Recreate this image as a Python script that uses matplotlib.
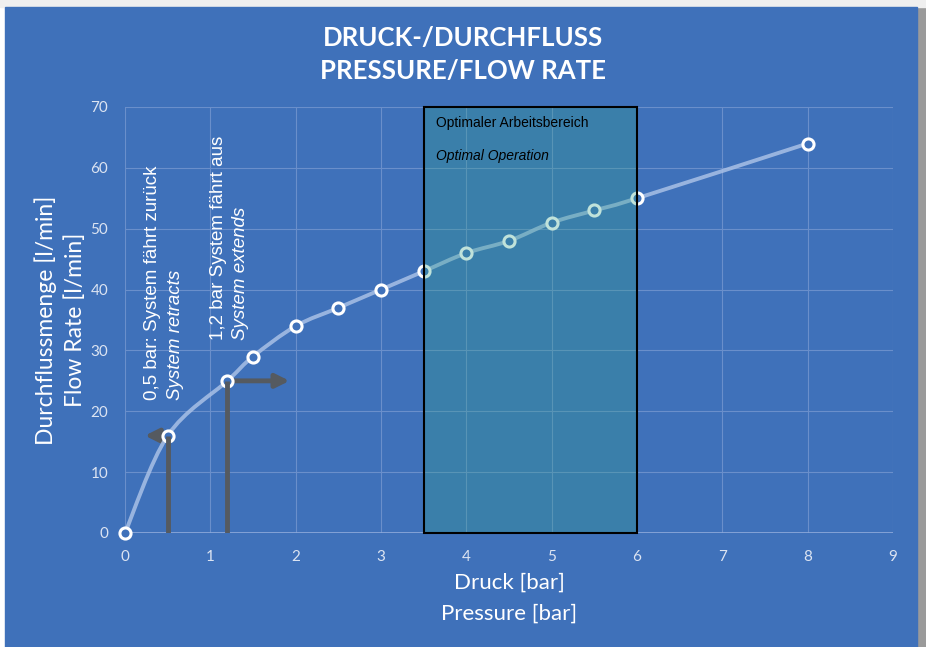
import numpy as np
import matplotlib.pyplot as plt
from matplotlib.path import Path
from matplotlib.patches import PathPatch, Rectangle

# ---------------- data ----------------
pressure = [0, 0.5, 1.2, 1.5, 2, 2.5, 3, 3.5, 4, 4.5, 5, 5.5, 6, 8]
flow = [0, 16, 25, 29, 34, 37, 40, 43, 46, 48, 51, 53, 55, 64]
opt_range = [3.5, 6]
retract_p, retract_q = 0.5, 16
extend_p, extend_q = 1.2, 25
xticks = list(range(0, 10))
yticks = list(range(0, 80, 10))

BG = '#3f71ba'
TXT = '#ffffff'
TICK = '#dce4f2'
GRID = '#6a8fcb'
ARROW = '#555a60'

fig = plt.figure(figsize=(9.26, 6.47), dpi=100, facecolor='white')
# panel + shadow (behind the axes)
fig.patches.append(Rectangle((917 / 926, 0), 9 / 926, 640 / 647,
                             transform=fig.transFigure, color='#9a9a9a', zorder=-2))
fig.patches.append(Rectangle((0, 640 / 647), 1, 7 / 647,
                             transform=fig.transFigure, color='#efefef', zorder=-2))
fig.patches.append(Rectangle((5 / 926, 0), 912 / 926, 640 / 647,
                             transform=fig.transFigure, color=BG, zorder=-1))

ax = fig.add_axes([125 / 926, 114 / 647, 768 / 926, 426 / 647])
ax.set_facecolor(BG)
ax.patch.set_alpha(0)
ax.set_xlim(0, 9)
ax.set_ylim(0, 70)
ax.set_xticks(xticks)
ax.set_yticks(yticks)
for s in ax.spines.values():
    s.set_visible(False)
ax.set_axisbelow(True)
ax.grid(True, color=GRID, linewidth=0.8)
ax.axhline(0, color='#8eaadb', linewidth=1.2, zorder=1)
ax.tick_params(length=0, colors=TICK, labelsize=11, pad=12)
for lab in ax.get_xticklabels() + ax.get_yticklabels():
    lab.set_family('Lato')

# smoothed curve (Catmull-Rom -> cubic Bezier)
pts = np.column_stack([pressure, flow]).astype(float)
ext = np.vstack([pts[0], pts, pts[-1]])
verts = [tuple(pts[0])]
codes = [Path.MOVETO]
for i in range(len(pts) - 1):
    p0, p1, p2, p3 = ext[i], ext[i + 1], ext[i + 2], ext[i + 3]
    c1 = p1 + (p2 - p0) / 6
    c2 = p2 - (p3 - p1) / 6
    verts += [tuple(c1), tuple(c2), tuple(p2)]
    codes += [Path.CURVE4] * 3
ax.add_patch(PathPatch(Path(verts, codes), facecolor='none',
                       edgecolor='#a9c0e6', linewidth=2.8, alpha=0.85,
                       zorder=4, clip_on=False))
ax.plot(pressure, flow, linestyle='none', marker='o', markersize=8,
        markerfacecolor=BG, markeredgecolor='white', markeredgewidth=2.2,
        zorder=5, clip_on=False)

# optimal operation box (translucent, on top of the curve)
ax.add_patch(Rectangle((opt_range[0], 0), opt_range[1] - opt_range[0], 70,
                       facecolor=(0.19, 0.63, 0.53, 0.3), edgecolor='black',
                       linewidth=1.5, zorder=6, clip_on=False))
ax.text(opt_range[0] + 0.14, 67.3, 'Optimaler Arbeitsbereich', fontsize=10,
        family='Liberation Sans', color='black', va='center', zorder=7)
ax.text(opt_range[0] + 0.14, 61.9, 'Optimal Operation', fontsize=10,
        family='Liberation Sans', style='italic', color='black',
        va='center', zorder=7)

# arrows
ax.plot([retract_p, retract_p], [0, retract_q], color=ARROW, lw=3.5,
        solid_capstyle='butt', zorder=5.5)
ax.annotate('', xy=(0.2, retract_q), xytext=(retract_p + 0.02, retract_q),
            arrowprops=dict(arrowstyle='-|>,head_length=0.8,head_width=0.4',
                            color=ARROW, lw=3.5), zorder=3)
ax.plot([extend_p, extend_p], [0, extend_q], color=ARROW, lw=3.5,
        solid_capstyle='butt', zorder=5.5)
ax.annotate('', xy=(1.96, extend_q), xytext=(extend_p - 0.02, extend_q),
            arrowprops=dict(arrowstyle='-|>,head_length=0.8,head_width=0.4',
                            color=ARROW, lw=3.5), zorder=3)

# rotated annotations
ann = dict(rotation=90, color=TXT, fontsize=13.5, family='Liberation Sans',
           ha='center', va='bottom', zorder=8)
ax.text(0.32, 21.9, '0,5 bar: System fährt zurück', **ann)
ax.text(0.59, 21.9, 'System retracts', style='italic', **ann)
ax.text(1.09, 31.7, '1,2 bar System fährt aus', **ann)
ax.text(1.35, 31.7, 'System extends', style='italic', **ann)

# titles and axis labels
fig.text(463 / 926, 1 - 38 / 647, 'DRUCK-/DURCHFLUSS', ha='center', va='center',
         color=TXT, fontsize=18.5, fontweight='bold', family='Lato')
fig.text(463 / 926, 1 - 71 / 647, 'PRESSURE/FLOW RATE', ha='center', va='center',
         color=TXT, fontsize=18.5, fontweight='bold', family='Lato')
fig.text(509 / 926, 1 - 583 / 647, 'Druck [bar]', ha='center', va='center',
         color=TXT, fontsize=16, family='Lato')
fig.text(509 / 926, 1 - 614 / 647, 'Pressure [bar]', ha='center', va='center',
         color=TXT, fontsize=16, family='Lato')
fig.text(46 / 926, 1 - 320 / 647, 'Durchflussmenge [l/min]', ha='center',
         va='center', rotation=90, color=TXT, fontsize=16.5, family='Lato')
fig.text(75 / 926, 1 - 320 / 647, 'Flow Rate [l/min]', ha='center',
         va='center', rotation=90, color=TXT, fontsize=16.5, family='Lato')

fig.savefig('out.png', dpi=100, facecolor=fig.get_facecolor())
